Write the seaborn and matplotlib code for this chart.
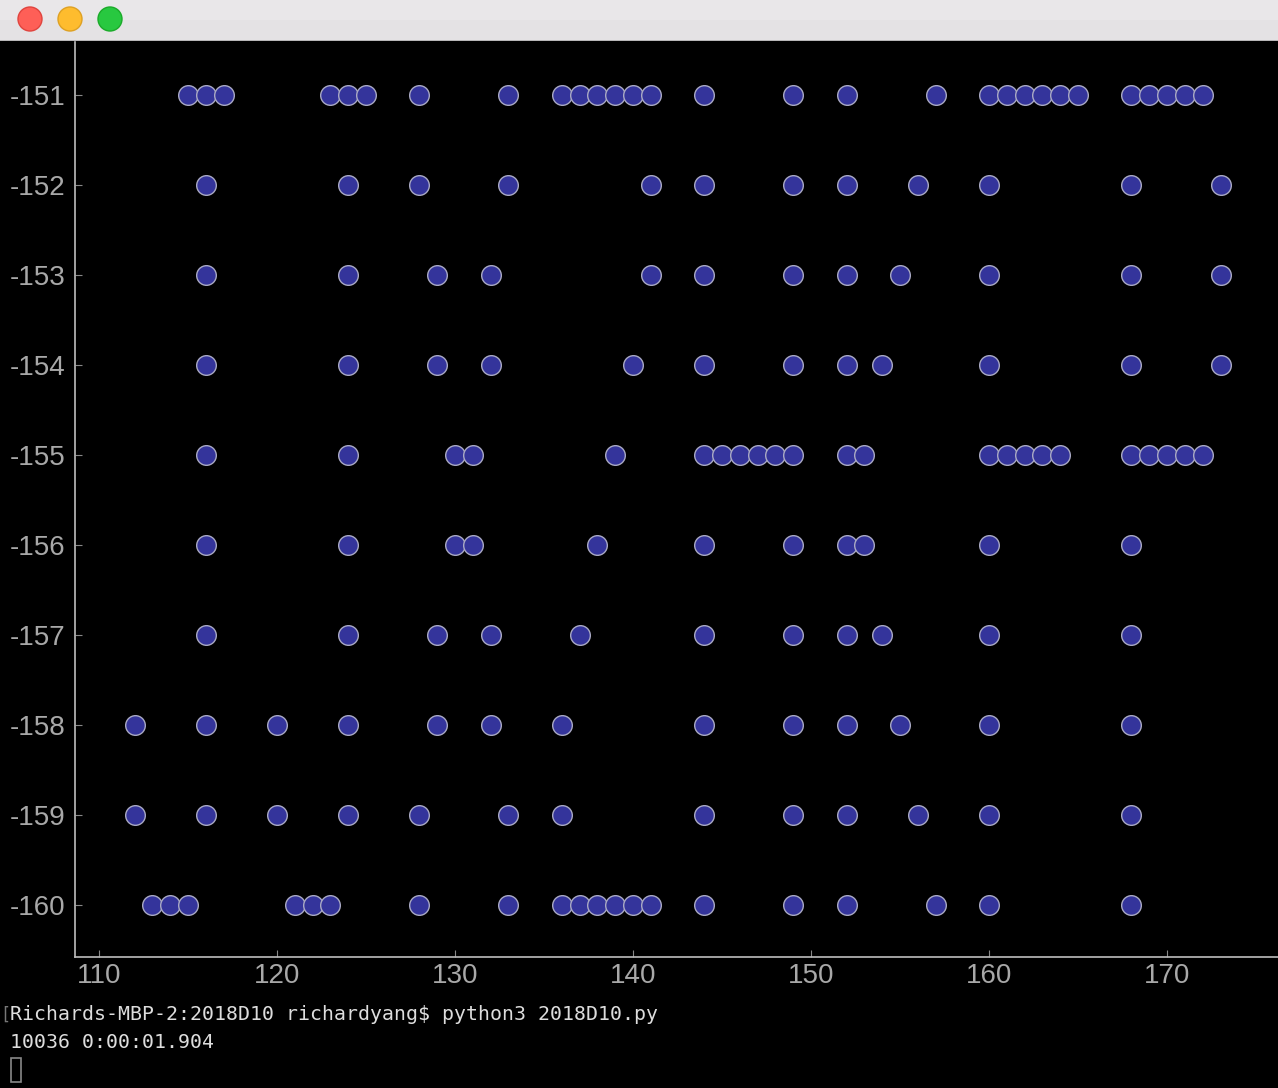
import numpy as np
import pandas as pd
import seaborn as sns
import matplotlib
matplotlib.use('Agg')
import matplotlib.pyplot as plt
from matplotlib.patches import Rectangle, Circle

plt.rcParams['axes.unicode_minus'] = False

# x positions of the dots on each row (y value)
row_y = [-151, -152, -153, -154, -155, -156, -157, -158, -159, -160]
row_151 = [115, 116, 117, 123, 124, 125, 128, 133, 136, 137, 138, 139, 140, 141,
           144, 149, 152, 157, 160, 161, 162, 163, 164, 165, 168, 169, 170, 171, 172]
row_152 = [116, 124, 128, 133, 141, 144, 149, 152, 156, 160, 168, 173]
row_153 = [116, 124, 129, 132, 141, 144, 149, 152, 155, 160, 168, 173]
row_154 = [116, 124, 129, 132, 140, 144, 149, 152, 154, 160, 168, 173]
row_155 = [116, 124, 130, 131, 139, 144, 145, 146, 147, 148, 149, 152, 153,
           160, 161, 162, 163, 164, 168, 169, 170, 171, 172]
row_156 = [116, 124, 130, 131, 138, 144, 149, 152, 153, 160, 168]
row_157 = [116, 124, 129, 132, 137, 144, 149, 152, 154, 160, 168]
row_158 = [112, 116, 120, 124, 129, 132, 136, 144, 149, 152, 155, 160, 168]
row_159 = [112, 116, 120, 124, 128, 133, 136, 144, 149, 152, 156, 160, 168]
row_160 = [113, 114, 115, 121, 122, 123, 128, 133, 136, 137, 138, 139, 140, 141,
           144, 149, 152, 157, 160, 168]
rows = [row_151, row_152, row_153, row_154, row_155,
        row_156, row_157, row_158, row_159, row_160]

x_ticks = [110, 120, 130, 140, 150, 160, 170]
term_line1 = "Richards-MBP-2:2018D10 richardyang$ python3 2018D10.py"
term_line2 = "10036 0:00:01.904"

xs, ys = [], []
for yv, r in zip(row_y, rows):
    xs += r
    ys += [yv] * len(r)
df = pd.DataFrame({'x': xs, 'y': ys})

W, H = 1278, 1088
fig = plt.figure(figsize=(W / 100, H / 100), dpi=100, facecolor='black')

# axes area in pixel terms
left, top, bottom = 75, 42, 957
ax = fig.add_axes([left / W, (H - bottom) / H, (W - left) / W, (bottom - top) / H])
ax.set_facecolor('black')

sns.scatterplot(data=df, x='x', y='y', ax=ax, s=200, color='#34349b',
                edgecolor='#a9a9c4', linewidth=1.0, zorder=3, legend=False)

ax.set_xlim(108.65, 176.23)
ax.set_ylim(-160.58, -150.41)
ax.set_xticks(x_ticks)
ax.set_yticks(row_y)
ax.set_xlabel('')
ax.set_ylabel('')
for s in ['top', 'right']:
    ax.spines[s].set_visible(False)
for s in ['left', 'bottom']:
    ax.spines[s].set_color('#bdbdbd')
    ax.spines[s].set_linewidth(1.2)
ax.tick_params(direction='in', length=5, width=0.8, color='#888888',
               labelcolor='#a8a8a8', labelsize=20)
ax.tick_params(axis='x', pad=4)
ax.tick_params(axis='y', pad=7)
for lab in ax.get_xticklabels() + ax.get_yticklabels():
    lab.set_family(['Liberation Sans', 'DejaVu Sans'])

# window title bar
fig.add_artist(Rectangle((0, (H - 40) / H), 1, 40 / H, transform=fig.transFigure,
                         facecolor='#e4e2e4', edgecolor='none', zorder=5))
fig.add_artist(Rectangle((0, (H - 20) / H), 1, 20 / H, transform=fig.transFigure,
                         facecolor='#e9e7e9', edgecolor='none', zorder=5))
fig.add_artist(Rectangle((0, (H - 41) / H), 1, 1.5 / H, transform=fig.transFigure,
                         facecolor='#b8b6b8', edgecolor='none', zorder=6))
for cx, fc, ec in [(30, '#fe5f57', '#e0443e'), (70, '#febc2e', '#dea123'),
                   (110, '#28c840', '#1aab29')]:
    c = Circle((cx, H - 19), 12, transform=None, facecolor=fc, edgecolor=ec,
               linewidth=1, zorder=7)
    fig.add_artist(c)

# terminal output below the plot
mono = ['DejaVu Sans Mono']
fs = 14.3
fig.text(0, 1 - 1015 / H, '[', color='#777777', fontsize=12, family=mono,
         va='center', ha='left')
fig.text(10 / W, 1 - 1015 / H, term_line1, color='#dddddd', fontsize=fs,
         family=mono, va='center', ha='left')
fig.text(10 / W, 1 - 1042 / H, term_line2, color='#dddddd', fontsize=fs,
         family=mono, va='center', ha='left')
fig.add_artist(Rectangle((11 / W, 1 - 1082 / H), 10 / W, 24 / H,
                         transform=fig.transFigure, facecolor='none',
                         edgecolor='#888888', linewidth=1.2))

fig.savefig('out.png', dpi=100, facecolor='black')
